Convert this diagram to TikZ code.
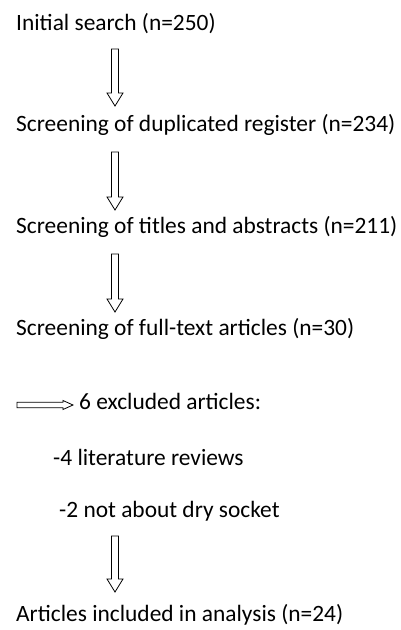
\documentclass[tikz,border=0pt]{standalone}
\usepackage{fontspec}
\setmainfont{Carlito}
\usetikzlibrary{calc}

\begin{document}
\begin{tikzpicture}[x=1pt,y=-1pt,
    step text/.style={anchor=base west,inner sep=0pt,font=\fontsize{23.4}{28}\selectfont},
    arrow down/.style={draw,line width=0.8pt,line join=miter,
      to path={($(\tikztostart)+(-3.5,0)$) -- ($(\tikztotarget)+(-3.5,-13)$)
        -- ($(\tikztotarget)+(-8,-13)$) -- (\tikztotarget) -- ($(\tikztotarget)+(8,-13)$)
        -- ($(\tikztotarget)+(3.5,-13)$) -- ($(\tikztostart)+(3.5,0)$) -- cycle}},
    arrow right/.style={draw,line width=0.8pt,line join=miter,
      to path={($(\tikztostart)+(0,-2.7)$) -- ($(\tikztotarget)+(-10,-2.7)$)
        -- ($(\tikztotarget)+(-10,-4.5)$) -- (\tikztotarget) -- ($(\tikztotarget)+(-10,4.5)$)
        -- ($(\tikztotarget)+(-10,2.7)$) -- ($(\tikztostart)+(0,2.7)$) -- cycle}}]

    \useasboundingbox (0,0) rectangle (401,630);

    % steps
    \node[step text] (init) at (16,30) {Initial search (n=250)};
    \node[step text] (dup) at (16,131) {Screening of duplicated register (n=234)};
    \node[step text] (titles) at (16,233) {Screening of titles and abstracts (n=211)};
    \node[step text] (full) at (16,335) {Screening of full-text articles (n=30)};
    \node[step text] (excl) at (79,409) {6 excluded articles:};
    \node[step text] (rev) at (53,465) {-4 literature reviews};
    \node[step text] (dry) at (59,517) {-2 not about dry socket};
    \node[step text] (incl) at (16,621) {Articles included in analysis (n=24)};

    % arrow ends
    \coordinate (a1) at (115,49);  \coordinate (b1) at (115,106);
    \coordinate (a2) at (115,152); \coordinate (b2) at (115,210);
    \coordinate (a3) at (115,254); \coordinate (b3) at (115,312);
    \coordinate (a4) at (115,536); \coordinate (b4) at (115,592);
    \coordinate (h1) at (17,405);  \coordinate (h2) at (73,405);

    % draw arrows
    \path[arrow down] (a1) to (b1);
    \path[arrow down] (a2) to (b2);
    \path[arrow down] (a3) to (b3);
    \path[arrow down] (a4) to (b4);
    \path[arrow right] (h1) to (h2);
\end{tikzpicture}
\end{document}
